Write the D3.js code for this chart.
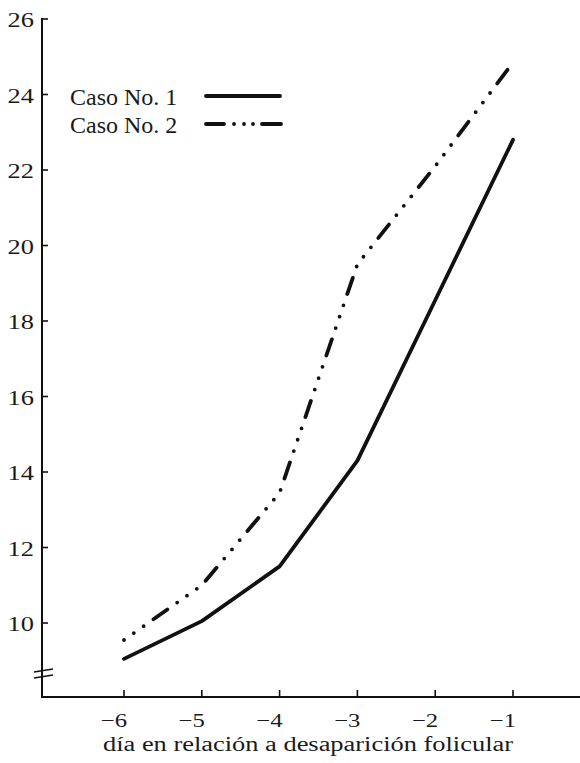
<!DOCTYPE html>
<html>
<head>
<meta charset="utf-8">
<script src="https://cdn.jsdelivr.net/npm/d3@7"></script>
<style>
  html, body { margin: 0; padding: 0; background: #fff; }
  svg { display: block; }
  text { font-family: "Liberation Serif", "DejaVu Serif", "Times New Roman", serif; fill: #1a1a1a; }
</style>
</head>
<body>
<script>
// ---- data ----
const days = [-6, -5, -4, -3, -2, -1];
const caso1 = [9.05, 10.05, 11.5, 14.3, 18.55, 22.8];
const caso2 = [9.55, 11.0, 13.45, 19.5, 22.1, 24.85];
const yTicks = [10, 12, 14, 16, 18, 20, 22, 24, 26];
const xTicks = [-6, -5, -4, -3, -2, -1];
const seriesNames = ["Caso No. 1", "Caso No. 2"];
const xTitle = "día en relación a desaparición folicular";

const W = 580, H = 763;
const FONT = "'Liberation Serif', 'DejaVu Serif', serif";
const svg = d3.select("body").append("svg").attr("width", W).attr("height", H);

const x = d3.scaleLinear().domain([-6, -1]).range([124, 513]);
const y = d3.scaleLinear().domain([10, 26]).range([623, 19]);
const axisX = 42, axisY = 697;

const ink = "#111";

// axes lines
svg.append("line").attr("x1", axisX).attr("x2", axisX).attr("y1", 18).attr("y2", axisY)
  .attr("stroke", ink).attr("stroke-width", 2);
svg.append("line").attr("x1", axisX - 1).attr("x2", W).attr("y1", axisY).attr("y2", axisY)
  .attr("stroke", ink).attr("stroke-width", 2);

// y ticks (inward) + labels
const yg = svg.append("g");
yg.selectAll("line").data(yTicks).join("line")
  .attr("x1", axisX).attr("x2", axisX + 6)
  .attr("y1", d => y(d)).attr("y2", d => y(d))
  .attr("stroke", ink).attr("stroke-width", 1.6);
yg.selectAll("text").data(yTicks).join("text")
  .attr("text-anchor", "end")
  .attr("font-family", FONT)
  .attr("transform", d => `translate(34,${y(d) + 8}) scale(1.2,1)`)
  .attr("font-size", 22)
  .text(d => d);

// axis break marks
[0, 6].forEach(o => {
  svg.append("line").attr("x1", axisX - 8).attr("x2", axisX + 11)
    .attr("y1", 672 + o).attr("y2", 669 + o)
    .attr("stroke", ink).attr("stroke-width", 1.6);
});

// x ticks (inward) + labels
const xg = svg.append("g");
xg.selectAll("line").data(xTicks).join("line")
  .attr("x1", d => x(d)).attr("x2", d => x(d))
  .attr("y1", axisY).attr("y2", axisY - 7)
  .attr("stroke", ink).attr("stroke-width", 1.6);
xg.selectAll("text").data(xTicks).join("text")
  .attr("text-anchor", "end")
  .attr("font-family", FONT)
  .attr("transform", d => `translate(${x(d) + 3},727) scale(1.3,1)`)
  .attr("font-size", 19)
  .text(d => "\u2212" + Math.abs(d));

// x title
svg.append("text")
  .attr("x", 103).attr("y", 751)
  .attr("font-family", FONT)
  .attr("font-size", 20)
  .attr("textLength", 410)
  .attr("lengthAdjust", "spacingAndGlyphs")
  .text(xTitle);

// lines
const line = d3.line().x(d => x(d[0])).y(d => y(d[1]));
const d1 = days.map((d, i) => [d, caso1[i]]);
const d2 = days.map((d, i) => [d, caso2[i]]);

svg.append("path").datum(d1).attr("d", line)
  .attr("fill", "none").attr("stroke", ink).attr("stroke-width", 3.8)
  .attr("stroke-linecap", "round").attr("stroke-linejoin", "round");

svg.append("path").datum(d2).attr("d", line)
  .attr("fill", "none").attr("stroke", ink).attr("stroke-width", 3.8)
  .attr("stroke-linecap", "round").attr("stroke-linejoin", "round")
  .attr("stroke-dasharray", "17,12,0,12,0,12,0,12")
  .attr("stroke-dashoffset", 29);

// legend
const lg = svg.append("g").attr("font-family", FONT);
lg.append("text").attr("x", 70).attr("y", 105).attr("font-size", 24).text(seriesNames[0]);
lg.append("text").attr("x", 70).attr("y", 133).attr("font-size", 24).text(seriesNames[1]);
lg.append("line").attr("x1", 206).attr("x2", 280).attr("y1", 96).attr("y2", 96)
  .attr("stroke", ink).attr("stroke-width", 3.8).attr("stroke-linecap", "round");
lg.append("line").attr("x1", 206).attr("x2", 281).attr("y1", 124).attr("y2", 124)
  .attr("stroke", ink).attr("stroke-width", 3.8).attr("stroke-linecap", "round")
  .attr("stroke-dasharray", "18,10,0,10,0,9,0,9,40");
</script>
</body>
</html>
